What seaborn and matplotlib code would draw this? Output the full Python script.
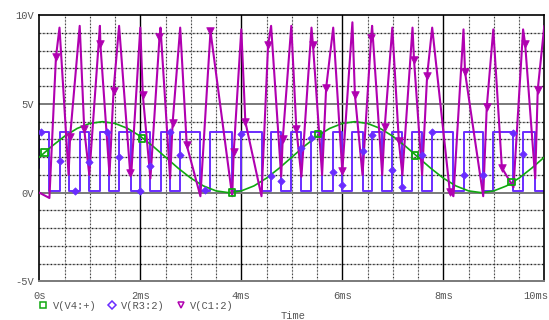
import matplotlib
matplotlib.use("Agg")
from matplotlib import pyplot as plt
from matplotlib.lines import Line2D
from matplotlib.transforms import ScaledTranslation
import numpy as np
import pandas as pd
import seaborn as sns

# V(V4:+) read every 0.25 ms
v4_ms = np.arange(0, 10.01, 0.25)
v4_v = [2.00, 2.62, 3.18, 3.62, 3.90, 4.00, 3.90, 3.62, 3.18, 2.62,
        2.00, 1.38, 0.82, 0.38, 0.10, 0.00, 0.10, 0.38, 0.82, 1.38,
        2.00, 2.62, 3.18, 3.62, 3.90, 4.00, 3.90, 3.62, 3.18, 2.62,
        2.00, 1.38, 0.82, 0.38, 0.10, 0.00, 0.10, 0.38, 0.82, 1.38, 2.00]
v4_mark_ms = [0.10, 2.03, 3.82, 5.52, 7.44, 9.35]
v4_mark_v = [2.25, 3.05, 0.0, 3.3, 2.1, 0.6]

# switching instants (ms): trough, peak, trough, ... of V(C1:2)
switch_ms = [0.20, 0.40, 0.58, 0.80, 0.99, 1.20, 1.39, 1.58, 1.82, 2.00,
             2.20, 2.40, 2.59, 2.79, 3.19, 3.39, 3.82, 4.00, 4.40, 4.59,
             4.79, 4.99, 5.19, 5.39, 5.60, 5.82, 6.00, 6.20, 6.40, 6.59,
             6.79, 6.99, 7.19, 7.39, 7.58, 7.78, 8.20, 8.40, 8.79, 8.99,
             9.39, 9.58, 9.82]
c1_switch_v = [-0.3, 9.3, 1.0, 9.4, 1.0, 9.4, 1.0, 9.4, 1.0, 9.3,
               0.8, 9.3, 0.8, 9.3, -0.2, 9.1, -0.2, 9.2, -0.2, 9.4,
               0.9, 9.4, 0.9, 9.3, 1.0, 9.3, 1.2, 9.6, 1.0, 9.4,
               1.0, 9.3, 1.0, 9.3, 1.0, 9.3, -0.2, 9.2, -0.2, 9.2,
               0.3, 9.2, 0.8]
c1_ends_ms = [0.0, 10.0]
c1_ends_v = [0.0, 9.4]
c1_mark_ms = [0.33, 0.61, 0.89, 1.21, 1.47, 1.80, 2.05, 2.38, 2.64, 2.92,
              3.39, 3.85, 4.08, 4.53, 4.82, 5.09, 5.42, 5.68, 6.00, 6.25,
              6.57, 6.84, 7.12, 7.42, 7.68, 8.13, 8.43, 8.86, 9.16, 9.62, 9.87]
c1_mark_v = [7.65, 3.15, 3.56, 8.35, 5.75, 1.1, 5.5, 8.75, 3.93, 2.67,
             9.1, 2.3, 4.0, 8.3, 3.0, 3.6, 8.3, 5.9, 1.2, 5.5,
             8.7, 3.7, 2.9, 7.5, 6.6, 0.05, 6.8, 4.8, 1.4, 8.4, 5.8]

# V(R3:2) levels
r3_start = 1.4
r3_high = 3.4
r3_low = 0.1
r3_mark_ms = [0.03, 0.40, 0.71, 0.99, 1.34, 1.58, 2.00, 2.20, 2.59, 2.79,
              3.29, 4.00, 4.59, 4.79, 5.19, 5.39, 5.82, 6.00, 6.40, 6.59,
              6.99, 7.19, 7.58, 7.78, 8.40, 8.79, 9.39, 9.58]
r3_mark_v = [3.4, 1.8, 0.1, 1.75, 3.4, 2.0, 0.1, 1.5, 3.4, 2.15,
             0.15, 3.3, 0.95, 0.65, 2.5, 3.1, 1.15, 0.45, 2.35, 3.25,
             1.3, 0.3, 2.15, 3.4, 1.0, 1.0, 3.35, 2.2]

x_ticks = [0, 2, 4, 6, 8, 10]
x_labels = ['0s', '2ms', '4ms', '6ms', '8ms', '10ms']
y_ticks = [-5, 0, 5, 10]
y_labels = ['-5V', '0V', '5V', '10V']

GREEN = '#10a810'
BLUE = '#6a2cff'
MAG = '#b000b0'
MONO = 'Liberation Mono'

# build the traces
c1 = pd.DataFrame({'t': c1_ends_ms + switch_ms + c1_mark_ms,
                   'v': c1_ends_v + c1_switch_v + c1_mark_v})
c1 = c1.sort_values('t', kind='stable')

r3_t, r3_v = [0.0, 0.0], [r3_start, r3_high]
level = r3_high
for i, t in enumerate(switch_ms):
    new = r3_low if i % 2 == 0 else r3_high
    r3_t += [t, t]
    r3_v += [level, new]
    level = new
r3_t.append(10.0)
r3_v.append(level)

sns.set_style('white')
plt.rcParams['font.family'] = [MONO, 'DejaVu Sans Mono']

fig = plt.figure(figsize=(5.49, 3.2), dpi=100)
ax = fig.add_axes([39.3 / 549, 1 - 281.4 / 320, 505 / 549, 266.2 / 320])

# grid
minor_x = [x for x in np.arange(0.5, 10, 0.5) if x % 2 != 0]
minor_y = [y for y in range(-4, 10) if y not in (0, 5)]
for x in minor_x:
    ax.axvline(x, color='#cfcfcf', lw=0.8, zorder=0)
    ax.axvline(x, color='#333333', lw=0.8, ls=(0, (1, 2)), zorder=0.5)
for y in minor_y:
    ax.axhline(y, color='#b5b5b5', lw=0.9, zorder=0)
    ax.axhline(y, color='#222222', lw=0.9, ls=(0, (1, 2)), zorder=0.5)
for x in [2, 4, 6, 8]:
    ax.axvline(x, color='black', lw=1.0, zorder=0.6)
for y in [0, 5]:
    ax.axhline(y, color='#7a7a7a', lw=1.4, zorder=0.6)

sns.lineplot(x=v4_ms, y=v4_v, sort=False, estimator=None, color=GREEN, lw=1.2, ax=ax, zorder=3)
sns.lineplot(x=r3_t, y=r3_v, sort=False, estimator=None, color=BLUE, lw=1.4, ax=ax, zorder=2)
sns.lineplot(data=c1, x='t', y='v', sort=False, estimator=None, color=MAG, lw=1.5, ax=ax, zorder=4)

sns.scatterplot(x=v4_mark_ms, y=v4_mark_v, marker='s', s=22, facecolor='none',
                edgecolor=GREEN, linewidth=1.3, ax=ax, zorder=5)
sns.scatterplot(x=r3_mark_ms, y=r3_mark_v, marker='D', s=14, color=BLUE,
                edgecolor=BLUE, linewidth=0.5, ax=ax, zorder=5)
sns.scatterplot(x=c1_mark_ms, y=c1_mark_v, marker='v', s=30, color=MAG,
                edgecolor=MAG, linewidth=0.5, ax=ax, zorder=6)

ax.set_xlim(0, 10)
ax.set_ylim(-5, 10)
ax.set_xticks(x_ticks)
ax.set_xticklabels(x_labels)
ax.set_yticks(y_ticks)
ax.set_yticklabels(y_labels)
ax.tick_params(axis='x', length=0, pad=7, labelsize=7.5, labelcolor='#555555')
ax.tick_params(axis='y', length=3, width=1, color='#555555', pad=1,
               labelsize=7.5, labelcolor='#555555')
last = ax.get_xticklabels()[-1]
last.set_horizontalalignment('right')
last.set_transform(last.get_transform() + ScaledTranslation(4 / 100, 0, fig.dpi_scale_trans))
ax.set_xlabel('')
ax.set_ylabel('')
for side in ['left', 'top', 'right']:
    ax.spines[side].set_color('black')
    ax.spines[side].set_linewidth(1.2)
ax.spines['bottom'].set_color('#7a7a7a')
ax.spines['bottom'].set_linewidth(1.4)

handles = [Line2D([], [], ls='none', marker='s', ms=4.5, mfc='none', mec=GREEN, mew=1.1),
           Line2D([], [], ls='none', marker='D', ms=3.8, mfc='none', mec=BLUE, mew=1.1),
           Line2D([], [], ls='none', marker='v', ms=5, mfc='none', mec=MAG, mew=1.1)]
fig.legend(handles, ['V(V4:+)', 'V(R3:2)', 'V(C1:2)'], loc='center left',
           bbox_to_anchor=(39 / 549, 1 - 306 / 320), ncol=3, frameon=False,
           handlelength=0.8, handletextpad=0.5, columnspacing=1.1,
           borderaxespad=0, borderpad=0, prop={'family': MONO, 'size': 7.5},
           labelcolor='#555555')
fig.text(293 / 549, 1 - 311 / 320, 'Time', ha='center', va='top',
         fontsize=7.5, color='#555555', family=MONO)

fig.savefig('out.png', dpi=100)
